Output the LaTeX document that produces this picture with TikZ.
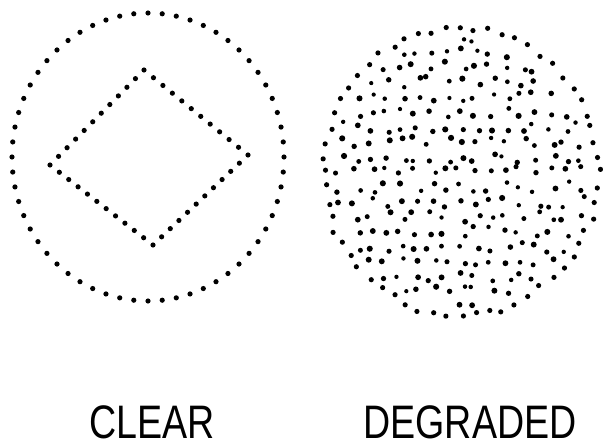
\documentclass[tikz,border=0pt]{standalone}
\usepackage{fontspec}
\setmainfont{Liberation Sans}
\usepackage{tikz}
\usetikzlibrary{calc, positioning}

\tikzset{
    dot/.style={fill=black},
    caption/.style={font=\fontsize{47}{52}\selectfont, inner sep=0pt, anchor=base}
}

\begin{document}
\begin{tikzpicture}[x=1pt, y=-1pt]
    \useasboundingbox (0,0) rectangle (603,447);

    % Imagen clara: círculo punteado
    \foreach \a in {0,6,...,354}
        \fill[dot] ({148+136*cos(\a)},{157+144*sin(\a)}) circle (2.6pt);

    % Rombo interior
    \coordinate (T) at (144,70);
    \coordinate (R) at (248,155);
    \coordinate (B) at (153,245);
    \coordinate (L) at (50,165);
    \foreach \p/\q in {T/R, R/B, B/L, L/T}
        \foreach \t in {0,...,10}
            \fill[dot] ($(\p)!\t/11!(\q)$) circle (2.6pt);

    % Imagen degradada: borde con ruido
    \pgfmathsetseed{4711}
    \foreach \a in {0,6,...,354} {
        \pgfmathsetmacro\dx{3*rand}
        \pgfmathsetmacro\dy{3*rand}
        \fill[dot] ({461+137*cos(\a)+\dx},{172+144*sin(\a)+\dy}) circle (2.6pt);
    }

    % Puntos de ruido en una rejilla con desplazamiento aleatorio
    \foreach \gx in {-9,...,9}
        \foreach \gy in {-9,...,9} {
            \pgfmathsetmacro\px{\gx*15+5.5*rand}
            \pgfmathsetmacro\py{\gy*15+5.5*rand}
            \pgfmathsetmacro\dotr{2.1+1.0*rnd}
            \pgfmathtruncatemacro\inside{((\px/128)^2+(\py/134)^2<1) ? 1 : 0}
            \ifnum\inside=1
                \fill[dot] ({461+\px},{172+\py}) circle (\dotr pt);
            \fi
        }

    % Etiquetas
    \node[caption] (clear) at (152,438) {\scalebox{0.8}[1]{CLEAR}};
    \node[caption] (degraded) at (470,438) {\scalebox{0.8}[1]{DEGRADED}};
\end{tikzpicture}
\end{document}
